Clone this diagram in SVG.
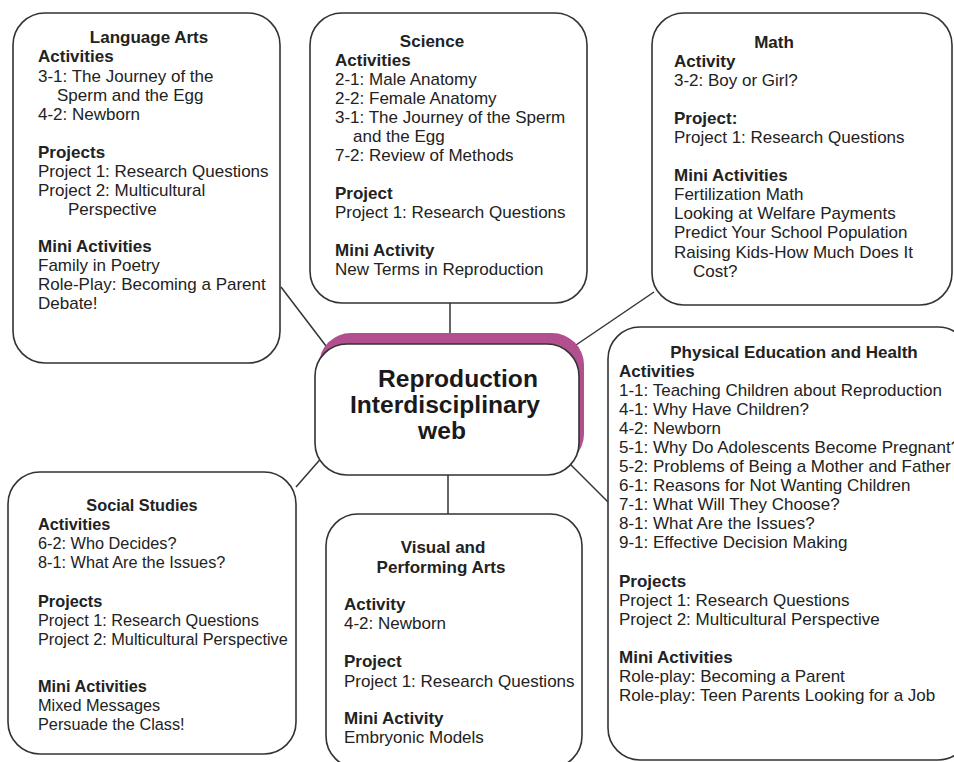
<svg xmlns="http://www.w3.org/2000/svg" width="954" height="762" viewBox="0 0 954 762">
<style>
.box{fill:#fff;stroke:#333;stroke-width:1.6}
.t{font-family:"Liberation Sans",Arial,sans-serif;font-size:17px;fill:#222}
.s{font-size:16.3px}
.b{font-weight:bold}
.c{text-anchor:middle}
.ct{font-family:"Liberation Sans",Arial,sans-serif;font-size:24.6px;font-weight:bold;fill:#1a1a1a;text-anchor:middle}
.ln{stroke:#333;stroke-width:1.5;fill:none}
</style>
<rect width="954" height="762" fill="#fff"/>
<g id="connectors">
<line class="ln" x1="281" y1="287" x2="326" y2="346"/>
<line class="ln" x1="450" y1="303" x2="450" y2="334"/>
<line class="ln" x1="576" y1="345" x2="654" y2="292"/>
<line class="ln" x1="296" y1="487" x2="324" y2="455"/>
<line class="ln" x1="448" y1="475" x2="448" y2="514"/>
<line class="ln" x1="570" y1="464" x2="608" y2="502"/>
</g>
<g id="center">
<rect x="319" y="333" width="265" height="133" rx="32" fill="#b24f8e"/>
<rect class="box" x="315" y="344" width="264" height="131" rx="32"/>
<text class="ct" x="458" y="387">Reproduction</text>
<text class="ct" x="445" y="413">Interdisciplinary</text>
<text class="ct" x="442" y="439">web</text>
</g>
<g id="language-arts">
<rect class="box" x="13" y="13" width="267" height="350" rx="32"/>
<text class="t b c" x="149" y="43">Language Arts</text>
<text class="t b" x="38" y="62">Activities</text>
<text class="t" x="38" y="82">3-1: The Journey of the</text>
<text class="t" x="57" y="101">Sperm and the Egg</text>
<text class="t" x="38" y="120">4-2: Newborn</text>
<text class="t b" x="38" y="158">Projects</text>
<text class="t" x="38" y="177">Project 1: Research Questions</text>
<text class="t" x="38" y="196">Project 2: Multicultural</text>
<text class="t" x="68" y="215">Perspective</text>
<text class="t b" x="38" y="252">Mini Activities</text>
<text class="t" x="38" y="271">Family in Poetry</text>
<text class="t" x="38" y="290">Role-Play: Becoming a Parent</text>
<text class="t" x="38" y="309">Debate!</text>
</g>
<g id="science">
<rect class="box" x="310" y="13" width="277" height="290" rx="32"/>
<text class="t b c" x="432" y="47">Science</text>
<text class="t b" x="335" y="66">Activities</text>
<text class="t" x="335" y="85">2-1: Male Anatomy</text>
<text class="t" x="335" y="104">2-2: Female Anatomy</text>
<text class="t" x="335" y="123">3-1: The Journey of the Sperm</text>
<text class="t" x="353" y="142">and the Egg</text>
<text class="t" x="335" y="161">7-2: Review of Methods</text>
<text class="t b" x="335" y="199">Project</text>
<text class="t" x="335" y="218">Project 1: Research Questions</text>
<text class="t b" x="335" y="256">Mini Activity</text>
<text class="t" x="335" y="275">New Terms in Reproduction</text>
</g>
<g id="math">
<rect class="box" x="652" y="13" width="300" height="292" rx="32"/>
<text class="t b c" x="774" y="48">Math</text>
<text class="t b" x="674" y="67">Activity</text>
<text class="t" x="674" y="86">3-2: Boy or Girl?</text>
<text class="t b" x="674" y="124">Project:</text>
<text class="t" x="674" y="143">Project 1: Research Questions</text>
<text class="t b" x="674" y="181">Mini Activities</text>
<text class="t" x="674" y="200">Fertilization Math</text>
<text class="t" x="674" y="219">Looking at Welfare Payments</text>
<text class="t" x="674" y="238">Predict Your School Population</text>
<text class="t" x="674" y="258">Raising Kids-How Much Does It</text>
<text class="t" x="693" y="277">Cost?</text>
</g>
<g id="physical-education">
<rect class="box" x="608" y="327" width="362" height="433" rx="32"/>
<text class="t b c" x="794" y="358">Physical Education and Health</text>
<text class="t b" x="619" y="377">Activities</text>
<text class="t" x="619" y="396">1-1: Teaching Children about Reproduction</text>
<text class="t" x="619" y="415">4-1: Why Have Children?</text>
<text class="t" x="619" y="434">4-2: Newborn</text>
<text class="t" x="619" y="453">5-1: Why Do Adolescents Become Pregnant?</text>
<text class="t" x="619" y="472">5-2: Problems of Being a Mother and Father</text>
<text class="t" x="619" y="491">6-1: Reasons for Not Wanting Children</text>
<text class="t" x="619" y="510">7-1: What Will They Choose?</text>
<text class="t" x="619" y="529">8-1: What Are the Issues?</text>
<text class="t" x="619" y="548">9-1: Effective Decision Making</text>
<text class="t b" x="619" y="587">Projects</text>
<text class="t" x="619" y="606">Project 1: Research Questions</text>
<text class="t" x="619" y="625">Project 2: Multicultural Perspective</text>
<text class="t b" x="619" y="663">Mini Activities</text>
<text class="t" x="619" y="682">Role-play: Becoming a Parent</text>
<text class="t" x="619" y="701">Role-play: Teen Parents Looking for a Job</text>
</g>
<g id="social-studies">
<rect class="box" x="8" y="472" width="288" height="282" rx="32"/>
<text class="t s b c" x="142" y="511">Social Studies</text>
<text class="t s b" x="38" y="530">Activities</text>
<text class="t s" x="38" y="549">6-2: Who Decides?</text>
<text class="t s" x="38" y="568">8-1: What Are the Issues?</text>
<text class="t s b" x="38" y="607">Projects</text>
<text class="t s" x="38" y="626">Project 1: Research Questions</text>
<text class="t s" x="38" y="645">Project 2: Multicultural Perspective</text>
<text class="t s b" x="38" y="692">Mini Activities</text>
<text class="t s" x="38" y="711">Mixed Messages</text>
<text class="t s" x="38" y="730">Persuade the Class!</text>
</g>
<g id="visual-performing-arts">
<rect class="box" x="326" y="514" width="256" height="254" rx="32"/>
<text class="t b c" x="443" y="553">Visual and</text>
<text class="t b c" x="441" y="573">Performing Arts</text>
<text class="t b" x="344" y="610">Activity</text>
<text class="t" x="344" y="629">4-2: Newborn</text>
<text class="t b" x="344" y="667">Project</text>
<text class="t" x="344" y="687">Project 1: Research Questions</text>
<text class="t b" x="344" y="724">Mini Activity</text>
<text class="t" x="344" y="743">Embryonic Models</text>
</g>
</svg>
